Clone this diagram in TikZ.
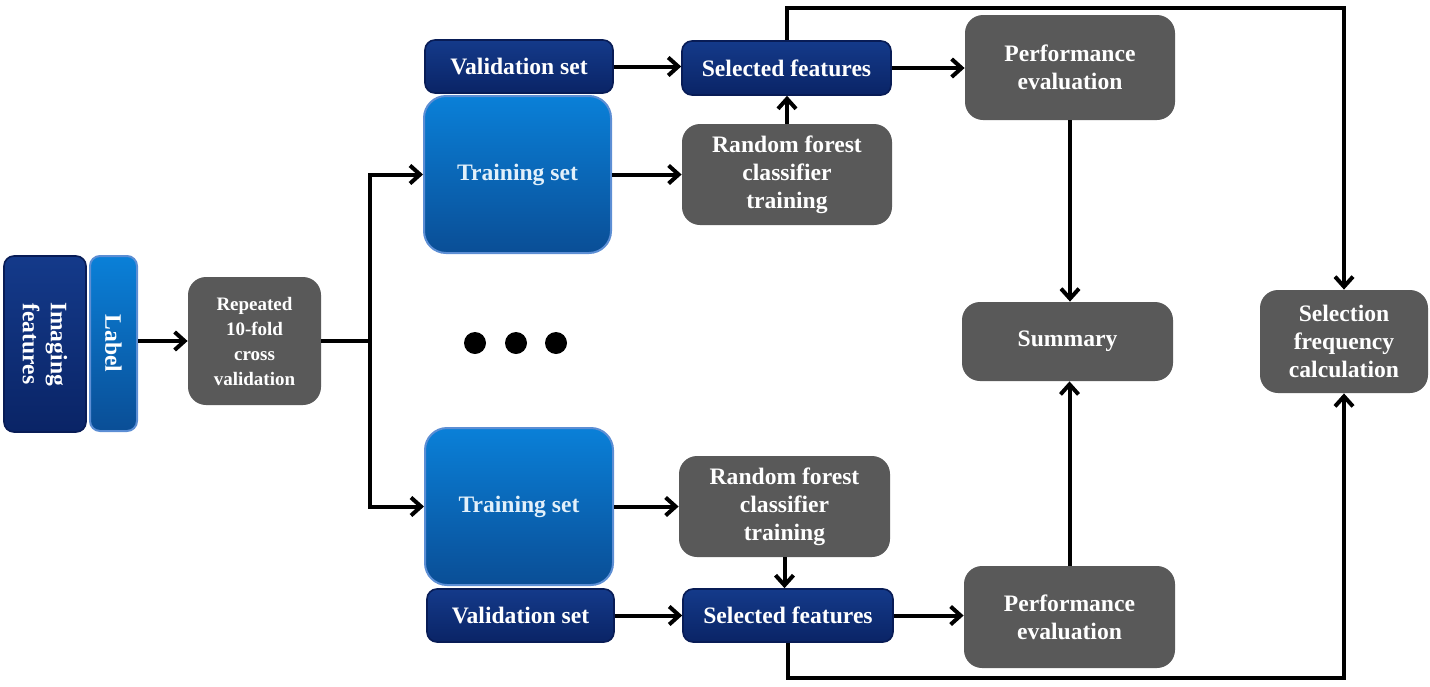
\documentclass[tikz,border=0pt]{standalone}
\usepackage{fontspec}
\setmainfont{Liberation Serif}
\usetikzlibrary{arrows.meta}
\definecolor{navytop}{RGB}{20,58,138}
\definecolor{navybot}{RGB}{10,36,102}
\definecolor{navyedge}{RGB}{8,28,86}
\definecolor{skytop}{RGB}{10,128,216}
\definecolor{skybot}{RGB}{10,78,150}
\definecolor{skyedge}{RGB}{92,142,212}
\definecolor{slate}{RGB}{89,89,89}

\begin{document}
\begin{tikzpicture}[x=0.5pt, y=-0.5pt,
  base/.style={align=center, text=white, inner sep=0pt,
    font=\bfseries\fontsize{11.8}{14}\selectfont},
  navybox/.style={base, rounded corners=5pt, draw=navyedge, line width=0.8pt,
    top color=navytop, bottom color=navybot},
  skybox/.style={base, rounded corners=11pt, draw=skyedge, line width=1pt,
    top color=skytop, bottom color=skybot, text=white!88!skytop},
  greybox/.style={base, rounded corners=9pt, fill=slate},
  vlabel/.style={rotate=-90, align=center, text=white,
    font=\bfseries\fontsize{11.8}{14}\selectfont},
  arr/.style={line width=2pt, -{Straight Barb[length=5pt, width=9pt, line width=2pt]}},
  wire/.style={line width=2pt}
]
  \useasboundingbox (0,0) rectangle (1430,686);

  % input
  \node[navybox, minimum width=41pt, minimum height=88pt,
    label={[vlabel]center:{Imaging\\features}}] (img) at (45,344) {};
  \node[skybox, rounded corners=5pt, minimum width=23.5pt, minimum height=87.5pt,
    label={[vlabel]center:Label}] (lab) at (113.5,343.5) {};
  \node[greybox, minimum width=66.5pt, minimum height=64pt,
    font=\bfseries\fontsize{9.5}{12.5}\selectfont] (cv) at (254.5,341)
    {Repeated\\10-fold\\cross\\validation};
  \coordinate (split) at (370,341);

  % upper fold
  \node[navybox, minimum width=94pt, minimum height=26.5pt] (val1) at (519,66.5) {Validation set};
  \node[skybox, minimum width=93.5pt, minimum height=78.5pt] (train1) at (517.5,174.5) {Training set};
  \node[navybox, minimum width=104.5pt, minimum height=27pt] (sel1) at (786.5,68) {Selected features};
  \node[greybox, minimum width=105pt, minimum height=50.5pt] (rf1) at (787,174.5) {Random forest\\classifier\\training};
  \node[greybox, minimum width=105pt, minimum height=52.5pt] (perf1) at (1070,67.5) {Performance\\evaluation};

  % ellipsis
  \foreach \x in {475,516,556}
    \fill (\x,343) circle (5.5pt);

  % lower fold
  \node[skybox, minimum width=94pt, minimum height=78.5pt] (train2) at (519,506.5) {Training set};
  \node[navybox, minimum width=93.5pt, minimum height=26.5pt] (val2) at (520.5,615.5) {Validation set};
  \node[greybox, minimum width=105.5pt, minimum height=50.5pt] (rf2) at (784.5,506.5) {Random forest\\classifier\\training};
  \node[navybox, minimum width=105pt, minimum height=26.5pt] (sel2) at (788,615.5) {Selected features};
  \node[greybox, minimum width=105.5pt, minimum height=51pt] (perf2) at (1069.5,617) {Performance\\evaluation};

  % results
  \node[greybox, minimum width=105.5pt, minimum height=39.5pt] (sum) at (1067.5,341.5) {Summary};
  \node[greybox, minimum width=84pt, minimum height=51.5pt] (freq) at (1344,341.5) {Selection\\frequency\\calculation};
  \coordinate (topline) at (0,8);
  \coordinate (botline) at (0,678);

  % connectors
  \draw[arr] (lab.east |- cv) -- (cv);
  \draw[wire] (cv) -- (split);
  \draw[arr] (split) |- (train1.west);
  \draw[arr] (split) |- (train2.west);

  \draw[arr] (val1.east) -- (val1.east -| sel1.west);
  \draw[arr] (train1) -- (rf1);
  \draw[arr] (rf1.north) -- (rf1.north |- sel1.south);
  \draw[arr] (sel1.east) -- (sel1.east -| perf1.west);
  \draw[arr] (perf1.south) -- (perf1.south |- sum.north);

  \draw[arr] (train2) -- (rf2);
  \draw[arr] (rf2.south) -- (rf2.south |- sel2.north);
  \draw[arr] (val2.east) -- (val2.east -| sel2.west);
  \draw[arr] (sel2.east) -- (sel2.east -| perf2.west);
  \draw[arr] (perf2.north) -- (perf2.north |- sum.south);

  \draw[arr] (sel1.north) |- (freq.north |- topline) -- (freq.north);
  \draw[arr] (sel2.south) |- (freq.south |- botline) -- (freq.south);
\end{tikzpicture}
\end{document}
